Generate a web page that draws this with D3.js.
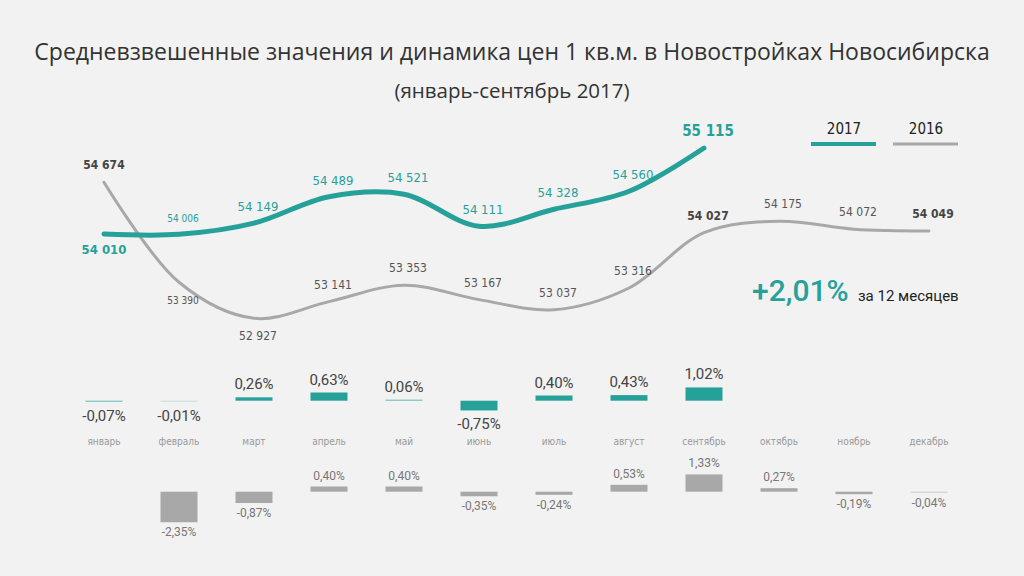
<!DOCTYPE html>
<html>
<head>
<meta charset="utf-8">
<script src="https://cdn.jsdelivr.net/npm/d3@7"></script>
<style>
  body { margin: 0; background: #f2f2f2; }
  svg { display: block; }
  .narrow { font-family: "Liberation Sans Narrow", "DejaVu Sans Condensed", "Arial Narrow", sans-serif; }
  .pct { font-family: Roboto, "Open Sans", sans-serif; }
</style>
</head>
<body>
<svg id="chart" width="1024" height="576"></svg>
<script>
// --- Data ---
const months = ["январь", "февраль", "март", "апрель", "май", "июнь", "июль", "август", "сентябрь", "октябрь", "ноябрь", "декабрь"];
const price2017 = [54010, 54006, 54149, 54489, 54521, 54111, 54328, 54560, 55115];
const price2016 = [54674, 53390, 52927, 53141, 53353, 53167, 53037, 53316, 54027, 54175, 54072, 54049];
const change2017 = [-0.07, -0.01, 0.26, 0.63, 0.06, -0.75, 0.40, 0.43, 1.02];
const change2016 = [null, -2.35, -0.87, 0.40, 0.40, -0.35, -0.24, 0.53, 1.33, 0.27, -0.19, -0.04];
const yearChange = "+2,01%";

const teal = "#26a19a";
const grey = "#a8a8a8";

const svg = d3.select("#chart");
const fmtNum = d => d3.format(",")(d).replace(/,/g, " ");
const fmtPct = d => d.toFixed(2).replace(".", ",") + "%";

// --- Titles ---
svg.append("text").attr("x", 512).attr("y", 60).attr("text-anchor", "middle")
    .style("font-family", "'Open Sans', sans-serif").style("font-size", "23px").style("fill", "#333")
    .text("Средневзвешенные значения и динамика цен 1 кв.м. в Новостройках Новосибирска");
svg.append("text").attr("x", 512).attr("y", 98).attr("text-anchor", "middle")
    .style("font-family", "'Open Sans', sans-serif").style("font-size", "20.5px").style("fill", "#333")
    .text("(январь-сентябрь 2017)");

// --- Scales ---
const x = d3.scalePoint().domain(months).range([104, 929]);
const y = d3.scaleLinear().domain([52900, 55200]).range([320.4, 141.4]);

const line = d3.line()
    .x((d, i) => x(months[i]))
    .y(d => y(d))
    .curve(d3.curveCatmullRom.alpha(0.5));

// Lines
svg.append("path").attr("d", line(price2016)).attr("fill", "none")
    .attr("stroke", grey).attr("stroke-width", 3).attr("stroke-linecap", "round");
svg.append("path").attr("d", line(price2017)).attr("fill", "none")
    .attr("stroke", teal).attr("stroke-width", 5).attr("stroke-linecap", "round");

// Line labels
const below2016 = new Set([1, 2]);
const bold2016 = new Set([0, 8, 11]);
svg.append("g").selectAll("text").data(price2016).enter().append("text")
    .attr("class", "narrow")
    .attr("x", (d, i) => x(months[i]) + (i === 0 ? 0 : 4))
    .attr("y", (d, i) => y(d) + (below2016.has(i) ? 22 : -13))
    .attr("text-anchor", "middle")
    .style("font-size", (d, i) => i === 1 ? "10px" : "12px")
    .style("font-weight", (d, i) => bold2016.has(i) ? "bold" : "normal")
    .style("fill", (d, i) => bold2016.has(i) ? "#444" : "#555")
    .text(fmtNum);

svg.append("g").selectAll("text").data(price2017).enter().append("text")
    .attr("class", "narrow")
    .attr("x", (d, i) => x(months[i]) + (i === 0 ? 0 : 4))
    .attr("y", (d, i) => y(d) + (i === 0 ? 20 : -12))
    .attr("text-anchor", "middle")
    .style("font-size", (d, i) => i === 1 ? "10px" : (i === price2017.length - 1 ? "15px" : "13px"))
    .style("font-weight", (d, i) => (i === 0 || i === price2017.length - 1) ? "bold" : "normal")
    .style("fill", teal)
    .text(fmtNum);

// --- Legend ---
const legend = [{ year: "2017", color: teal, w: 4, x0: 811 }, { year: "2016", color: grey, w: 3, x0: 893 }];
legend.forEach(l => {
    svg.append("line").attr("x1", l.x0).attr("x2", l.x0 + 65).attr("y1", 144).attr("y2", 144)
        .attr("stroke", l.color).attr("stroke-width", l.w);
    svg.append("text").attr("class", "narrow").attr("x", l.x0 + 33).attr("y", 134)
        .attr("text-anchor", "middle").style("font-size", "15px").style("fill", "#222").text(l.year);
});

// --- Year change ---
svg.append("text").attr("class", "pct").attr("x", 752).attr("y", 301)
    .style("font-size", "30px").style("font-weight", 500).style("fill", teal).text(yearChange);
svg.append("text").attr("class", "pct").attr("x", 858).attr("y", 301)
    .style("font-size", "15px").style("fill", "#222").text("за 12 месяцев");

// --- Monthly change bars ---
const barW = 37;
const b17 = d3.scaleLinear().domain([-1, 1]).range([413.7, 387.7]);
const b16 = d3.scaleLinear().domain([-1, 1]).range([504.7, 478.7]);

function barRect(scale, d) {
    const y0 = scale(0), y1 = scale(d);
    const h = Math.max(1, Math.abs(y1 - y0));
    return { y: d >= 0 ? y0 - h : y0, h: h };
}

const g17 = svg.append("g").selectAll("g").data(change2017).enter().append("g");
g17.append("rect")
    .attr("x", (d, i) => x(months[i]) - barW / 2)
    .attr("y", d => barRect(b17, d).y)
    .attr("width", barW)
    .attr("height", d => barRect(b17, d).h)
    .attr("fill", teal).attr("opacity", d => Math.abs(d) < 0.05 ? 0.25 : (Math.abs(d) < 0.1 ? 0.7 : 1));
g17.append("text").attr("class", "pct")
    .attr("x", (d, i) => x(months[i]))
    .attr("y", d => d >= 0 ? barRect(b17, d).y - 8 : barRect(b17, d).y + barRect(b17, d).h + 19)
    .attr("text-anchor", "middle").style("font-size", "15px").style("fill", "#444")
    .text(fmtPct);

svg.append("g").selectAll("text").data(months).enter().append("text")
    .attr("class", "narrow")
    .attr("x", d => x(d)).attr("y", 445).attr("text-anchor", "middle")
    .style("font-size", "10px").style("fill", "#999").text(d => d);

const data16 = change2016.map((d, i) => ({ d, m: months[i] })).filter(o => o.d !== null);
const g16 = svg.append("g").selectAll("g").data(data16).enter().append("g");
g16.append("rect")
    .attr("x", o => x(o.m) - barW / 2)
    .attr("y", o => barRect(b16, o.d).y)
    .attr("width", barW)
    .attr("height", o => barRect(b16, o.d).h)
    .attr("fill", grey).attr("opacity", o => Math.abs(o.d) < 0.1 ? 0.5 : 1);
g16.append("text").attr("class", "pct")
    .attr("x", o => x(o.m))
    .attr("y", o => o.d >= 0 ? barRect(b16, o.d).y - 7 : barRect(b16, o.d).y + barRect(b16, o.d).h + 14)
    .attr("text-anchor", "middle").style("font-size", "12px").style("fill", "#777")
    .text(o => fmtPct(o.d));
</script>
</body>
</html>
